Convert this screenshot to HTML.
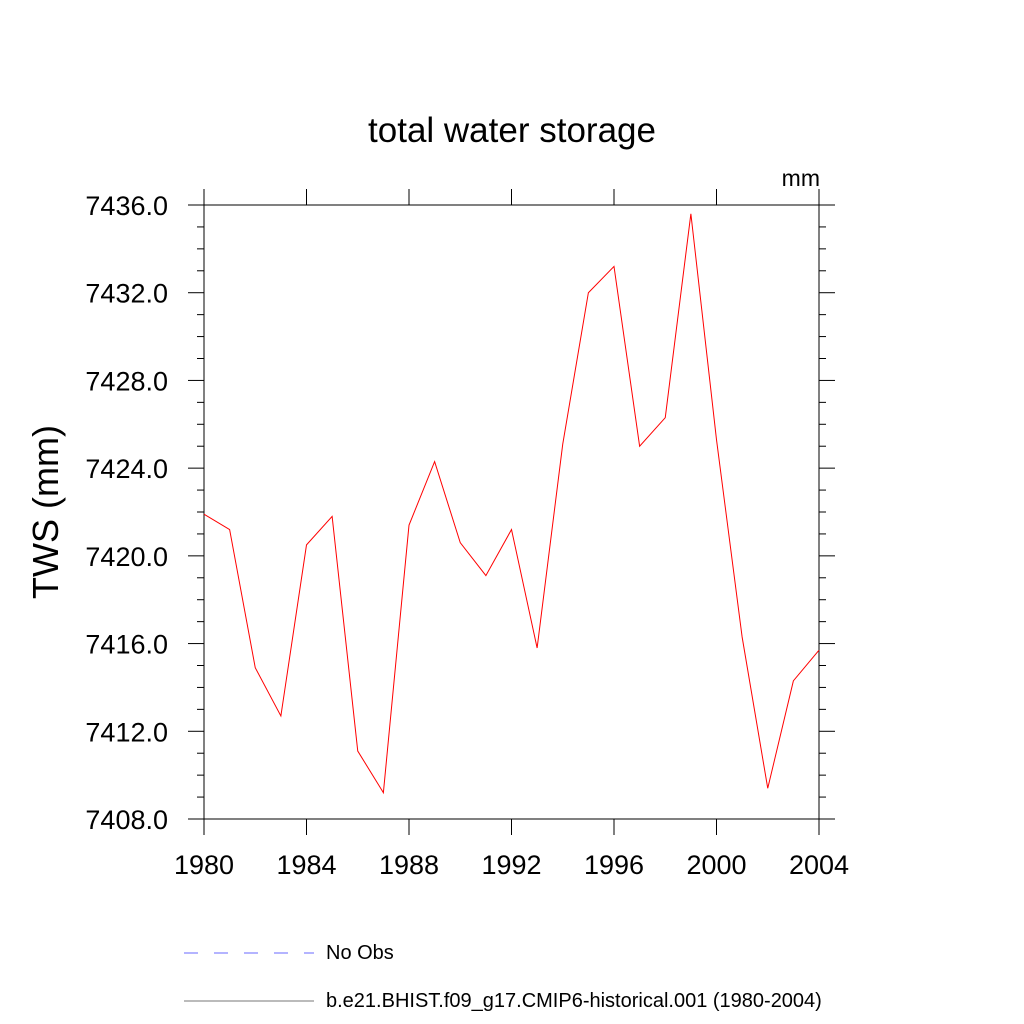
<!DOCTYPE html>
<html><head><meta charset="utf-8"><style>
body{margin:0;background:#fff;}
svg{display:block;font-family:"Liberation Sans",sans-serif;}
</style></head><body>
<svg id="chart" width="1024" height="1024" viewBox="0 0 1024 1024">
<text x="512" y="142" font-size="35" text-anchor="middle">total water storage</text>
<text x="820" y="186" font-size="23" text-anchor="end">mm</text>
<text transform="translate(58,512) rotate(-90)" font-size="36" text-anchor="middle">TWS  (mm)</text>
<g id="axes"></g>
<g id="series"></g>
<line x1="184" y1="953" x2="314" y2="953" stroke="#6a6aff" stroke-width="1" stroke-dasharray="14,16"/>
<text x="326" y="959" font-size="20">No Obs</text>
<line x1="184" y1="1001" x2="314" y2="1001" stroke="#777" stroke-width="1"/>
<text x="326" y="1007" font-size="20">b.e21.BHIST.f09_g17.CMIP6-historical.001 (1980-2004)</text>
</svg>
<script>
const years=[1980,1981,1982,1983,1984,1985,1986,1987,1988,1989,1990,1991,1992,1993,1994,1995,1996,1997,1998,1999,2000,2001,2002,2003,2004];
const tws=[7421.9,7421.2,7414.9,7412.7,7420.5,7421.8,7411.1,7409.2,7421.4,7424.3,7420.6,7419.1,7421.2,7415.8,7425.1,7432.0,7433.2,7425.0,7426.3,7435.6,7425.3,7416.3,7409.4,7414.3,7415.7];
const xTicks=[1980,1984,1988,1992,1996,2000,2004];
const yTicks=[7408,7412,7416,7420,7424,7428,7432,7436];
const NS="http://www.w3.org/2000/svg";
const L=204,R=819,T=205,B=819;
function xs(v){return L+(v-1980)/(2004-1980)*(R-L);}
function ys(v){return B-(v-7408)/(7436-7408)*(B-T);}
function mk(tag,attrs,parent){const e=document.createElementNS(NS,tag);for(const k in attrs)e.setAttribute(k,attrs[k]);parent.appendChild(e);return e;}
const ax=document.getElementById('axes');
const frame=mk('rect',{x:L,y:T,width:R-L,height:B-T,fill:'none',stroke:'#000','stroke-width':1},ax);


for(let v=7408;v<=7436;v++){
  const y=ys(v);const maj=(v%4===0);const len=maj?16:7;
  mk('line',{x1:L-len,y1:y,x2:L,y2:y,stroke:'#000'},ax);
  mk('line',{x1:R,y1:y,x2:R+len,y2:y,stroke:'#000'},ax);
}
yTicks.forEach(v=>{
  const t=mk('text',{x:168,y:ys(v)+10,'font-size':27,'text-anchor':'end'},ax);
  t.textContent=v.toFixed(1);
  
  
});
xTicks.forEach(v=>{
  const x=xs(v);
  mk('line',{x1:x,y1:B,x2:x,y2:B+16,stroke:'#000'},ax);
  mk('line',{x1:x,y1:T-16,x2:x,y2:T,stroke:'#000'},ax);
  const t=mk('text',{x:x,y:874,'font-size':27,'text-anchor':'middle'},ax);
  t.textContent=v;
  
  
});
const pts=years.map((y,i)=>xs(y)+','+ys(tws[i])).join(' ');
const line=mk('polyline',{points:pts,fill:'none',stroke:'#ff0000','stroke-width':1},document.getElementById('series'));


</script>
</body></html>
